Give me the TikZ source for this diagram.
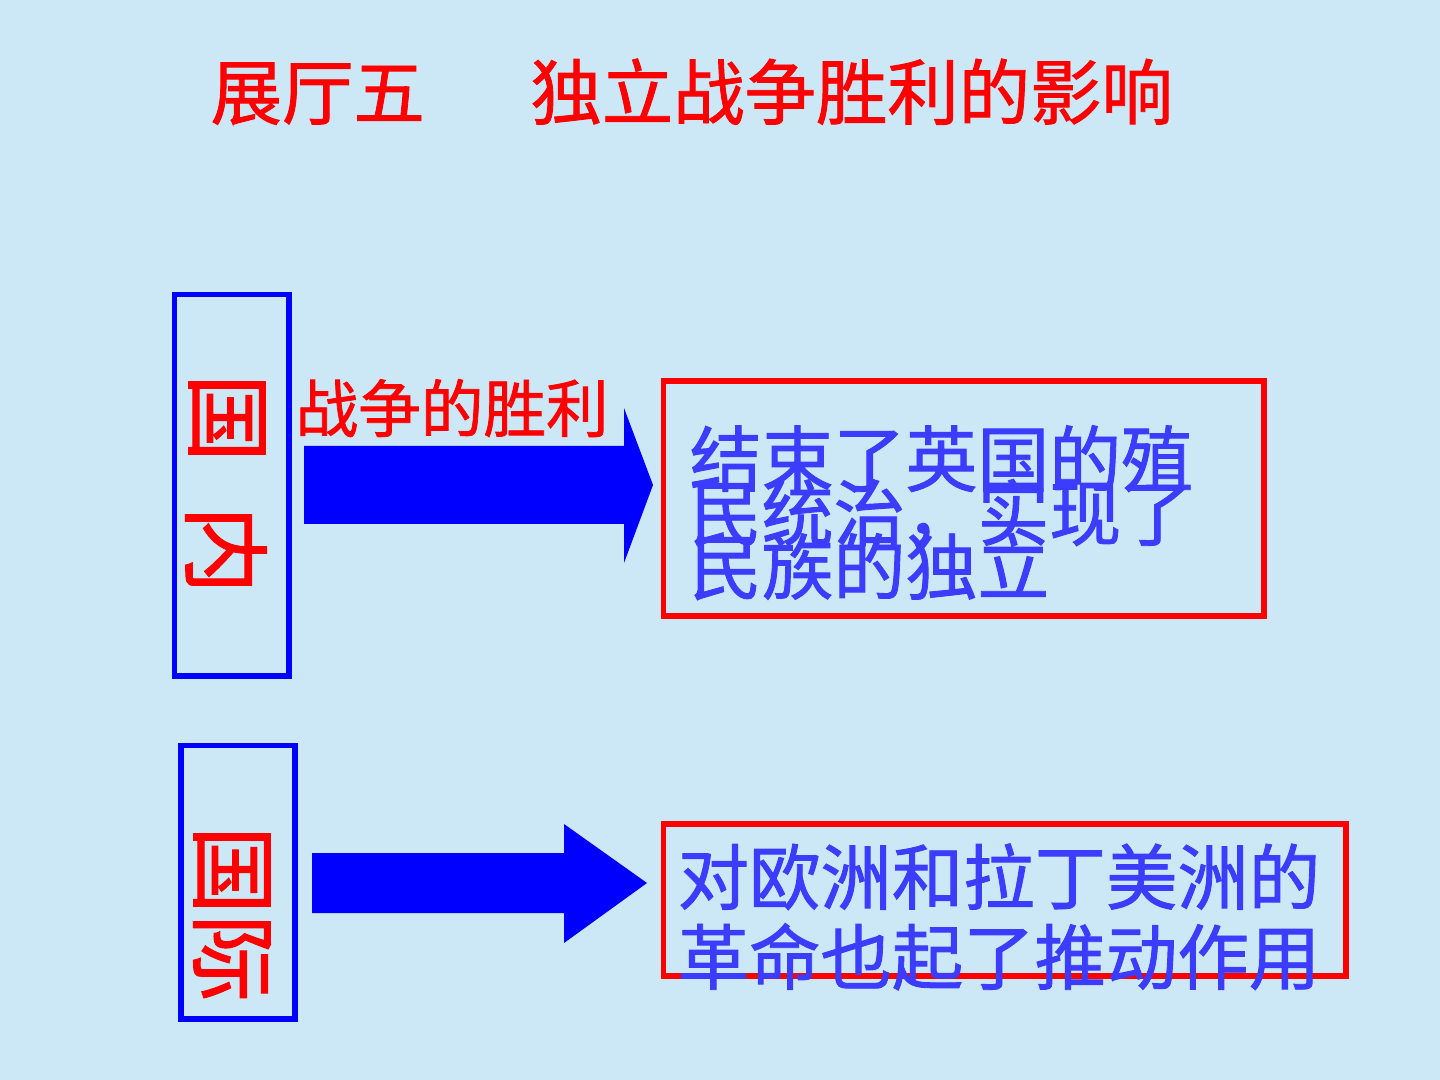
\documentclass[tikz,border=0pt]{standalone}
\usepackage{fontspec}
\newfontfamily\cjk[FakeBold=1.2]{Noto Sans CJK SC}
\definecolor{bgblue}{RGB}{204,232,247}
\definecolor{txtblue}{RGB}{60,60,255}
\definecolor{pureblue}{RGB}{0,0,255}
\definecolor{purered}{RGB}{255,0,0}
\tikzset{
  bluebox/.style={draw=pureblue, line width=1.55pt, inner sep=0pt},
  redbox/.style={draw=purered, line width=1.55pt, inner sep=0pt},
  blockarrow/.style={fill=pureblue, draw=none},
  titletext/.style={text=purered, inner sep=0pt, anchor=base west, font=\cjk\fontsize{20.3pt}{24pt}\selectfont},
  labeltext/.style={text=purered, inner sep=0pt, anchor=base west, font=\cjk\fontsize{17.8pt}{21pt}\selectfont},
  sidetext/.style={text=purered, inner sep=0pt, rotate=-90, font=\cjk\fontsize{25pt}{28pt}\selectfont},
  bodytext/.style={text=txtblue, inner sep=0pt, anchor=base west, font=\cjk\fontsize{20.45pt}{24pt}\selectfont},
  bodytextb/.style={text=txtblue, inner sep=0pt, anchor=base west, font=\cjk\fontsize{20.3pt}{24pt}\selectfont}
}
\begin{document}
\begin{tikzpicture}[x=0.01cm, y=-0.01cm]
\fill[bgblue] (0,0) rectangle (1440,1080);
\useasboundingbox (0,0) rectangle (1440,1080);

% title
\node[titletext] (title) at (210,119) {展厅五\hspace{1.48em}独立战争胜利的影响};

% boxes
\node[bluebox, minimum width=11.45mm, minimum height=38.15mm] (inbox) at (231.75,485.25) {};
\node[redbox, minimum width=60.05mm, minimum height=23.5mm] (inres) at (963.75,498.5) {};
\node[bluebox, minimum width=11.4mm, minimum height=27.35mm] (exbox) at (238,882.25) {};
\node[redbox, minimum width=68.25mm, minimum height=15.2mm] (exres) at (1004.75,900) {};

% side labels
\node[sidetext] (in1) at (227,418) {国};
\node[sidetext] (in2) at (226,550) {内};
\node[sidetext] (ex1) at (232,870) {国};
\node[sidetext] (ex2) at (232,958) {际};

% arrows
\fill[blockarrow] (304,446) -- (624,446) -- (624,408) -- (653,485) -- (624,563) -- (624,524) -- (304,524) -- cycle;
\fill[blockarrow] (312,853) -- (564,853) -- (564,824) -- (647,883) -- (564,943) -- (564,913) -- (312,913) -- cycle;

% arrow label
\node[labeltext] (win) at (295,432) {战争的胜利};

% result texts
\node[bodytext] (r1a) at (689,486) {结束了英国的殖};
\node[bodytext] (r1b) at (689,540) {民统治，实现了};
\node[bodytext] (r1c) at (689,594) {民族的独立};

\node[bodytextb] (r2a) at (677,904) {对欧洲和拉丁美洲的};
\node[bodytextb] (r2b) at (677,984) {革命也起了推动作用};
\end{tikzpicture}
\end{document}
